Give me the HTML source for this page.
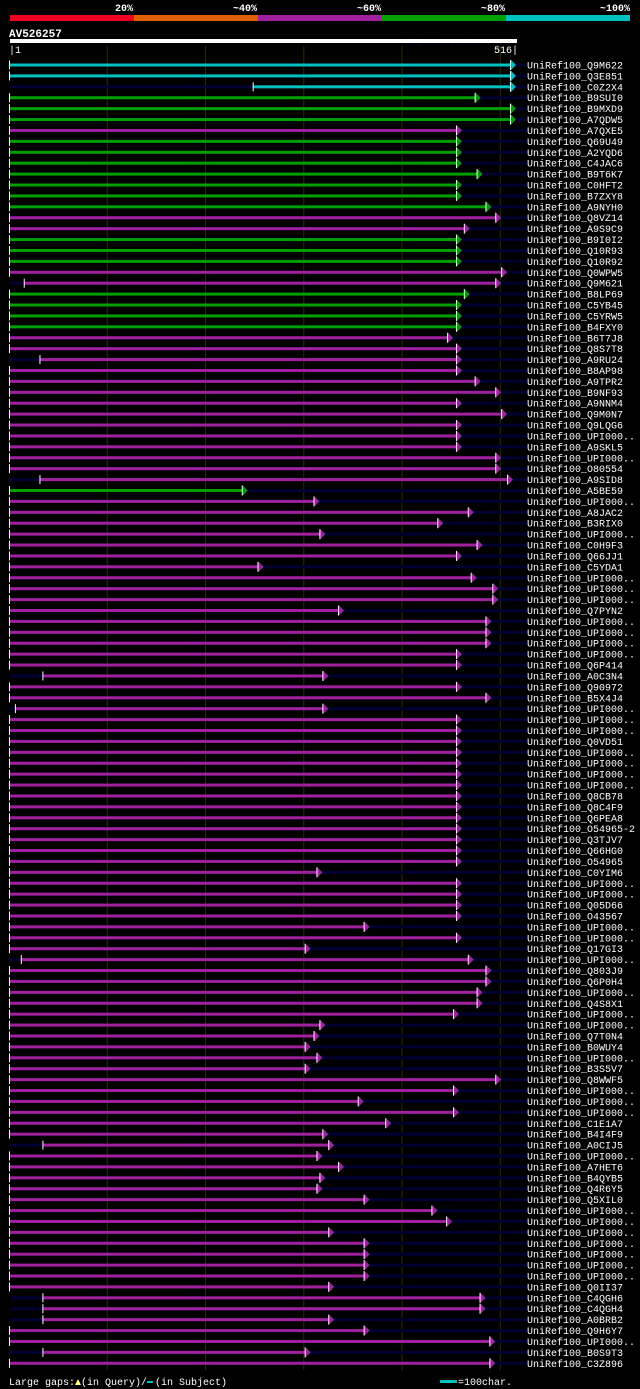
<!DOCTYPE html>
<html><head><meta charset="utf-8"><style>
html,body{margin:0;padding:0;background:#000;}
svg{display:block;font-family:"Liberation Mono","DejaVu Sans Mono",monospace;}
</style></head><body>
<svg id="chart" width="640" height="1389" viewBox="0 0 640 1389" xmlns="http://www.w3.org/2000/svg">
<rect width="640" height="1389" fill="#000"/>
<g>
<rect x="10" y="15" width="124" height="6" fill="#f00020"/>
<rect x="134" y="15" width="124" height="6" fill="#e06000"/>
<rect x="258" y="15" width="124" height="6" fill="#a020a0"/>
<rect x="382" y="15" width="124" height="6" fill="#00a000"/>
<rect x="506" y="15" width="124" height="6" fill="#00c0c0"/>
<g fill="#fff" font-size="10" font-weight="bold" text-anchor="end">
<text x="133" y="11">20%</text><text x="257" y="11">~40%</text><text x="381" y="11">~60%</text><text x="505" y="11">~80%</text><text x="630" y="11">~100%</text>
</g></g>
<text x="9" y="37" fill="#fff" font-size="11" font-weight="bold">AV526257</text>
<text x="402" y="44" fill="#0a0a40" font-size="8">AlignView.pm Beta rel.7</text>
<rect x="10" y="39" width="507" height="4" fill="#fff"/>
<text x="9" y="53" fill="#fff" font-size="10">|1</text>
<text x="518" y="53" fill="#fff" font-size="10" text-anchor="end">516|</text>
<g id="grid"></g>
<g id="rows"></g>
<g font-size="10" fill="#fff">
<text x="9" y="1385">Large gaps:</text>
<polygon points="75,1385 78,1379 81,1385" fill="#ffff80"/>
<text x="81" y="1385">(in Query)/</text>
<rect x="147" y="1381" width="6" height="2" fill="#00c0c0"/>
<text x="155" y="1385">(in Subject)</text>
<rect x="440" y="1380" width="17" height="3" fill="#00c0c0"/>
<text x="458" y="1385">=100char.</text>
</g>
</svg>
<script>
const names=["Q9M622","Q3E851","C0Z2X4","B9SUI0","B9MXD9","A7QDW5","A7QXE5","Q69U49","A2YQD6","C4JAC6","B9T6K7","C0HFT2","B7ZXY8","A9NYH0","Q8VZ14","A9S9C9","B9I0I2","Q10R93","Q10R92","Q0WPW5","Q9M621","B8LP69","C5YB45","C5YRW5","B4FXY0","B6T7J8","Q8S7T8","A9RU24","B8AP98","A9TPR2","B9NF93","A9NNM4","Q9M0N7","Q9LQG6","UPI000..","A9SKL5","UPI000..","O80554","A9SID8","A5BE59","UPI000..","A8JAC2","B3RIX0","UPI000..","C0H9F3","Q66JJ1","C5YDA1","UPI000..","UPI000..","UPI000..","Q7PYN2","UPI000..","UPI000..","UPI000..","UPI000..","Q6P414","A0C3N4","Q90972","B5X4J4","UPI000..","UPI000..","UPI000..","Q0VD51","UPI000..","UPI000..","UPI000..","UPI000..","Q8CB78","Q8C4F9","Q6PEA8","O54965-2","Q3TJV7","Q66HG0","O54965","C0YIM6","UPI000..","UPI000..","Q05D66","O43567","UPI000..","UPI000..","Q17GI3","UPI000..","Q803J9","Q6P0H4","UPI000..","Q4S8X1","UPI000..","UPI000..","Q7T0N4","B0WUY4","UPI000..","B3S5V7","Q8WWF5","UPI000..","UPI000..","UPI000..","C1E1A7","B4I4F9","A0CIJ5","UPI000..","A7HET6","B4QYB5","Q4R6Y5","Q5XIL0","UPI000..","UPI000..","UPI000..","UPI000..","UPI000..","UPI000..","UPI000..","Q0II37","C4QGH6","C4QGH4","A0BRB2","Q9H6Y7","UPI000..","B0S9T3","C3Z896"];
const starts=[1,1,249,1,1,1,1,1,1,1,1,1,1,1,1,1,1,1,1,1,16,1,1,1,1,1,1,32,1,1,1,1,1,1,1,1,1,1,32,1,1,1,1,1,1,1,1,1,1,1,1,1,1,1,1,1,35,1,1,7,1,1,1,1,1,1,1,1,1,1,1,1,1,1,1,1,1,1,1,1,1,1,13,1,1,1,1,1,1,1,1,1,1,1,1,1,1,1,1,35,1,1,1,1,1,1,1,1,1,1,1,1,1,35,35,35,1,1,35,1];
const ends=[516,516,516,480,516,516,461,461,461,461,482,461,461,491,501,469,461,461,461,507,501,469,461,461,461,452,461,461,461,480,501,461,507,461,461,461,501,501,513,243,316,473,442,322,482,461,259,476,498,498,341,491,491,491,461,461,325,461,491,325,461,461,461,461,461,461,461,461,461,461,461,461,461,461,319,461,461,461,461,367,461,307,473,491,491,482,482,458,322,316,307,319,307,501,458,361,458,389,325,331,319,341,322,319,367,436,451,331,367,367,367,367,331,485,485,331,367,495,307,495];
const kinds="cccgggmgggggggmmgggmmggggmmmmmmmmmmmmmmgmmmmmmmmmmmmmmmmmmmmmmmmmmmmmmmmmmmmmmmmmmmmmmmmmmmmmmmmmmmmmmmmmmmmmmmmmmmmmmmmmm".split("");
const gridTicks=[100,200,300,400,500];
const NS="http://www.w3.org/2000/svg";
const x=p=>10+(p-1)*506/515;
const y=i=>65+i*10.91;
const col={c:"#00c0c0",g:"#00a000",m:"#a020a0"};
function mk(t,a,parent){const e=document.createElementNS(NS,t);for(const k in a)e.setAttribute(k,a[k]);parent.appendChild(e);return e;}
const grid=document.getElementById('grid');
gridTicks.forEach(t=>{
 const l=mk('line',{x1:x(t),x2:x(t),y1:46,y2:1370,stroke:'#2c2c00','stroke-width':1},grid);
 
 
});
const rows=document.getElementById('rows');
names.forEach((n,i)=>{
 const g=mk('g',{},rows);
 
 
 const yy=y(i);
 mk('rect',{x:10,y:yy-1.5,width:517,height:3,fill:'#000033'},g);
 const x0=x(starts[i]),x1=x(ends[i]);
 const c=col[kinds[i]]||col.m;
 mk('rect',{x:x0,y:yy-1.5,width:Math.max(0,x1-x0-5),height:3,fill:c},g);
 mk('rect',{x:x0-1,y:yy-4.5,width:1,height:9,fill:'#fff'},g);
 mk('polygon',{points:`${x1-5},${yy-5} ${x1},${yy} ${x1-5},${yy+5}`,fill:c},g);
 mk('rect',{x:x1-6,y:yy-5,width:1,height:10,fill:'#fff'},g);
 const t=mk('text',{x:527,y:yy+3.5,fill:'#fff','font-size':10},g);
 t.textContent='UniRef100_'+n;
});
</script>
</body></html>
